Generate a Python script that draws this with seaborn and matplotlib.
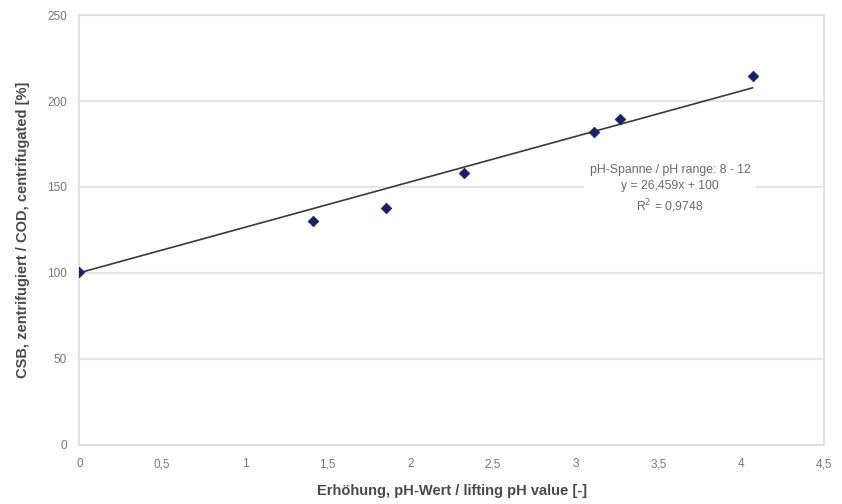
import numpy as np
import pandas as pd
import matplotlib
matplotlib.use("Agg")
import matplotlib.pyplot as plt
import seaborn as sns

# values
ph_lift = [0.0, 1.414, 1.853, 2.326, 3.11, 3.27, 4.07]
cod_pct = [100.2, 130.4, 137.9, 158.0, 182.2, 189.6, 214.6]

# trend line as stated in the chart
slope = 26.459
intercept = 100
trend_x = [0.0, 4.07]

x_ticks = [0, 0.5, 1, 1.5, 2, 2.5, 3, 3.5, 4, 4.5]
x_tick_labels = ["0", "0,5", "1", "1,5", "2", "2,5", "3", "3,5", "4", "4,5"]
y_ticks = [0, 50, 100, 150, 200, 250]

df = pd.DataFrame({"x": ph_lift, "y": cod_pct})
trend = pd.DataFrame({"x": trend_x, "y": [slope * v + intercept for v in trend_x]})

sns.set_theme(style="white")
plt.rcParams["font.family"] = ["Liberation Sans", "DejaVu Sans"]

fig = plt.figure(figsize=(8.42, 5.04), dpi=100)
ax = fig.add_axes([0.0944, 0.118, 0.884, 0.852])

sns.lineplot(data=trend, x="x", y="y", ax=ax, color="#3a3a3a", linewidth=1.2, zorder=3)
sns.scatterplot(data=df, x="x", y="y", ax=ax, marker="D", s=30, color="#1c1c6b",
                edgecolor="#1c1c6b", zorder=4)

ax.set_xlim(0, 4.5)
ax.set_ylim(0, 250)
ax.set_xticks(x_ticks)
ax.set_xticklabels(x_tick_labels)
ax.set_yticks(y_ticks)
ax.tick_params(axis="both", labelsize=8.5, colors="#777777", length=0)
ax.tick_params(axis="x", pad=10)
ax.tick_params(axis="y", pad=9)

ax.yaxis.grid(True, color="#e6e6e6", linewidth=1.5)
ax.set_axisbelow(True)
for side in ax.spines.values():
    side.set_color("#dddddd")
    side.set_linewidth(1.2)

ax.set_xlabel("Erhöhung, pH-Wert / lifting pH value [-]", fontsize=10.5,
              fontweight="bold", color="#4a4a4a", labelpad=10)
ax.set_ylabel("CSB, zentrifugiert / COD, centrifugated [%]", fontsize=10.5,
              fontweight="bold", color="#4a4a4a", labelpad=12)

ax.text(3.57, 148.5, "pH-Spanne / pH range: 8 - 12\ny = 26,459x + 100\nR$^2$ = 0,9748",
        ha="center", va="center", fontsize=8.8, color="#6a6a6a", linespacing=1.4,
        bbox=dict(facecolor="white", edgecolor="none", pad=4), zorder=5)

fig.savefig("out.png", dpi=100)
